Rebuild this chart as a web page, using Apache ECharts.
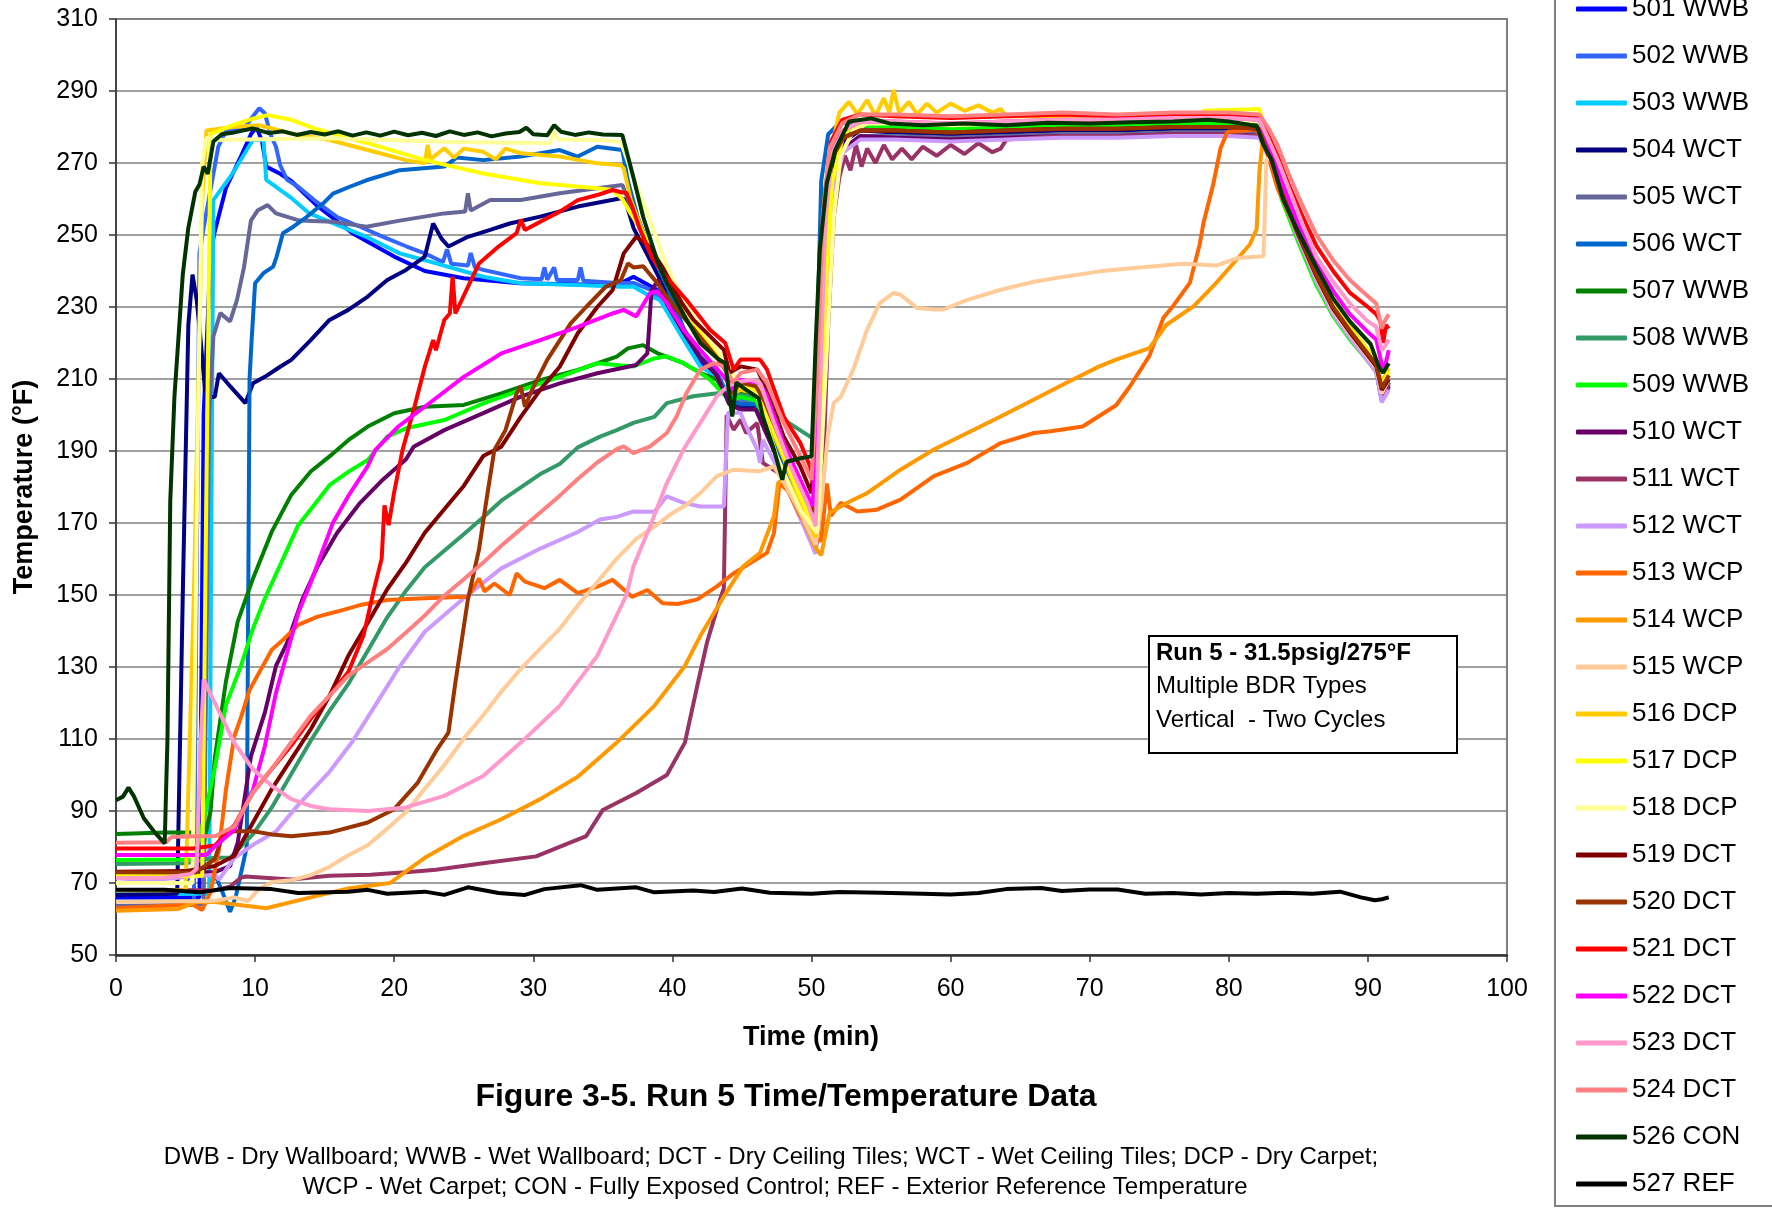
<!DOCTYPE html>
<html><head><meta charset="utf-8">
<script src="https://cdn.jsdelivr.net/npm/echarts@6/dist/echarts.min.js"></script>
<style>html,body{margin:0;padding:0;background:#fff}#c{width:1772px;height:1209px}</style>
</head><body><div id="c"></div>
<script>
const seriesNames = ['501 WWB','502 WWB','503 WWB','504 WCT','505 WCT','506 WCT','507 WWB','508 WWB','509 WWB','510 WCT','511 WCT','512 WCT','513 WCP','514 WCP','515 WCP','516 DCP','517 DCP','518 DCP','519 DCT','520 DCT','521 DCT','522 DCT','523 DCT','524 DCT','526 CON','527 REF'];
const seriesColors = ['#0000FF','#3366FF','#00CCFF','#000080','#666699','#0066CC','#008000','#339966','#00FF00','#660066','#993366','#CC99FF','#FF6600','#FF9900','#FFCC99','#FFCC00','#FFFF00','#FFFF99','#800000','#993300','#FF0000','#FF00FF','#FF99CC','#FF8080','#003300','#000000'];
const xTickLabels = [0,10,20,30,40,50,60,70,80,90,100];
const yTickLabels = [50,70,90,110,130,150,170,190,210,230,250,270,290,310];

const s501 = [[0,66],[6.0,66],[6.3,200],[6.8,245],[7.1,251],[7.9,263],[9,272],[9.7,278],[10.1,280],[10.5,276],[10.8,269],[11.8,267],[12.6,265],[14.5,258],[17,250.5],[20,244],[22.2,240],[25,238],[29,236.6],[33,236.3],[36,236],[37.2,238.4],[38.9,234.8],[40.8,222],[42,214.4],[43.2,210],[44.1,205],[44.9,203],[46,203],[46.5,199],[48,186],[49,176],[50.3,162],[50.6,200],[51,250],[51.5,270],[52.3,278],[53.5,280],[56,279.5],[60,279],[64,279.5],[68,280],[72,280],[76,280.5],[80,280.5],[82.2,280],[82.8,274],[83.8,262],[85,249.5],[86.3,237.5],[87.5,228.5],[88.7,222],[90,215.5],[90.6,212.5],[91,204],[91.5,208]];
const s502 = [[0,65],[5.6,65],[5.9,200],[6.0,245],[6.3,252],[7.35,274.5],[7.9,279],[9.3,280],[9.85,283],[10.3,285.2],[10.7,283.8],[11.1,278],[11.5,274.5],[11.8,269.4],[12.3,265.3],[13.1,263.4],[14.25,259.7],[15.9,255],[17.55,252.3],[19.2,249.5],[20.9,246.8],[22.2,244.9],[23.5,242.5],[23.8,246],[24.1,242],[25.3,241.5],[25.5,245],[25.8,241],[26.4,240.3],[29.1,238],[30.6,237.7],[30.8,241],[31,237.6],[31.5,241],[31.7,237.5],[33.2,237.5],[33.4,241],[33.6,237.3],[36,236.7],[37.2,236.7],[38.4,234.8],[39.6,230],[40.8,223.7],[42,216.3],[43.2,211.7],[44.1,205],[44.9,204],[46,203.5],[46.5,199],[48,185],[49,175.5],[50.3,163],[50.6,205],[51,255],[51.5,272],[52.3,279],[53.5,281],[56,280.5],[60,280],[64,280.5],[68,281],[72,281],[76,281.5],[80,281.5],[82.2,281],[82.8,275],[83.8,262.5],[85,250],[86.3,238],[87.5,229],[88.7,222.5],[90,216],[90.6,213],[91,205],[91.5,209]];
const s503 = [[0,67],[6.7,67],[6.9,200],[7.0,259.7],[8.4,267.2],[9.4,273.6],[9.85,276.4],[10.6,276.4],[10.8,265.3],[11.5,263.4],[12.5,260.6],[13.9,256],[15.6,253.3],[18,249.5],[20.4,244.9],[22.2,243],[26.4,238.4],[29.1,236.6],[33.2,236.1],[36.3,235.6],[37.2,235.7],[38.4,233],[39.1,232],[40.8,221],[42,213.5],[43.2,210.7],[44.1,205],[44.9,203.5],[46,203],[46.5,198],[48,184],[49,174],[50.3,161.5],[50.6,200],[51,252],[51.5,271],[52.3,278],[53.5,280],[56,279.5],[60,279],[64,279.5],[68,280],[72,280],[76,280.5],[80,280.5],[82.2,280],[82.8,273.5],[83.8,261.5],[85,249],[86.3,237],[87.5,228],[88.7,221.5],[90,215],[90.6,212],[91,204],[91.5,207.5]];
const s504 = [[0,66.7],[4.4,67],[4.8,150],[5.2,225],[5.5,239],[5.8,232],[6.04,222.7],[6.4,207],[6.7,205],[7.1,205],[7.4,211.6],[8.2,208],[9.3,203.3],[9.85,208.8],[10.7,210.6],[11.8,213.4],[12.6,215.3],[14,220.8],[15.35,226.4],[16.7,229.2],[18.1,232.9],[19.5,237.5],[20.85,240.3],[22.2,244],[22.8,253.2],[23.4,249],[23.9,246.8],[25.3,249.5],[26.9,251.4],[28.3,253.2],[30.5,255.1],[33.2,257.9],[36.3,260.2],[36.6,259.8],[37.2,252],[38,246],[39,238.5],[40.8,224],[42,216],[43.2,211],[44.1,203],[44.9,202],[46,202],[46.5,198],[48,185],[49,175],[50.3,162],[50.6,195],[51,245],[51.5,268],[52.3,276],[53.5,279],[56,278.5],[60,278],[64,278.5],[68,279],[72,279],[76,279.5],[80,279.5],[82.2,279],[82.8,273],[83.8,261.5],[85,249.5],[86.3,237.5],[87.5,228.5],[88.7,222],[90,215.5],[90.6,212.5],[91,205],[91.5,208.5]];
const s505 = [[0,63.6],[6.3,64],[6.7,200],[7.0,221.8],[7.5,228.3],[8.2,226],[8.7,232],[9.2,241],[9.7,254],[10.2,256.9],[10.9,258.3],[11.5,256],[13.2,254],[15.6,253.7],[18,252.3],[20.4,254],[23.6,256],[25.1,256.5],[25.3,261.6],[25.5,256.8],[26.9,259.7],[29.1,259.7],[31.9,261.6],[34.6,263],[36.4,263.9],[36.8,260],[37.5,253],[38.5,245],[39.6,236],[40.8,224],[42,216],[43.2,211],[44.1,204],[44.9,203.5],[46,203],[46.5,199],[48,185],[49,175.5],[50.3,163],[50.6,195],[51,240],[51.5,265],[52.3,274],[53.5,277.5],[56,277.5],[60,277],[64,277.5],[68,278],[72,278],[76,278.5],[80,278.5],[82.2,278],[82.8,273],[83.8,262],[85,250],[86.3,238],[87.5,229],[88.7,222.5],[90,216],[90.6,213],[91,206],[91.5,209.5]];
const s506 = [[0,70],[5,70],[5.3,72],[7.1,72.5],[7.6,68],[8.2,62],[8.6,66],[9.4,80],[9.6,210],[9.75,220.8],[10,236.6],[10.6,239.4],[11.3,241.2],[11.55,244],[12,250.5],[12.75,252.3],[13.7,255],[14.9,258.8],[15.6,261.5],[16.8,263.4],[18,265.2],[20.4,268],[23.6,269],[24.5,271.5],[26.4,270.8],[29.1,271.8],[31.9,273.6],[33.2,271.8],[34.6,274.5],[36.4,273.6],[36.8,265],[37.5,255],[38.5,245],[39.6,236],[40.8,224],[42,216],[43.2,211],[44.1,204],[44.9,203],[46,203],[46.5,199],[48,186],[49,176],[50.2,164],[50.4,220],[50.7,265],[51.2,278],[52,281],[53.5,281.5],[56,281],[60,280.5],[64,281],[68,281.5],[72,281.5],[76,282],[80,282],[82.2,281],[82.8,275],[83.8,263],[85,250.5],[86.3,238.5],[87.5,229.5],[88.7,223],[90,216.5],[90.6,213.5],[91,206],[91.5,210]];
const s507 = [[0,83.6],[3.6,84],[5.5,84],[6.3,81],[6.8,90],[7.1,104.6],[7.9,125.9],[8.75,142.6],[9.85,154.6],[11.2,167.6],[12.6,177.8],[14,184.3],[15.35,188.5],[16.7,193],[18.1,196.8],[20,200.5],[22.2,202.3],[25,202.8],[27.7,206],[30.5,209.7],[33.2,212.5],[36,216.2],[36.8,218.5],[37.9,219.4],[38.9,217.2],[40.8,214.4],[42,211.7],[43.2,209.8],[44.1,204],[44.9,206],[46,205],[46.5,201],[48,189],[49,180],[50.2,170],[50.5,210],[50.9,260],[51.4,274],[52.3,279],[53.5,281],[56,280.5],[60,280],[64,280.5],[68,281],[72,281],[76,281.5],[80,281.5],[82.2,281],[82.8,274.5],[83.8,262],[85,249.5],[86.3,237.5],[87.5,228.5],[88.7,222],[90,215.5],[90.6,212.5],[91,205.5],[91.5,209]];
const s508 = [[0,75.3],[5,75.5],[7.1,77],[8.2,77],[9.85,83.6],[11.2,91],[12.6,100.3],[14,109.5],[15.35,117.8],[16.7,125.3],[18.1,134.5],[19.5,143.8],[20.85,151.2],[22.2,157.7],[23.6,162.3],[25,166.9],[26.4,171.6],[27.7,176.2],[29.1,179.9],[30.5,183.6],[31.9,186.4],[33.2,191],[34.8,194],[36,195.8],[37.2,197.8],[38.7,199.5],[39.6,203.3],[41.5,205.2],[43.4,206.1],[45.6,205.2],[48,198.7],[49.9,194],[50.3,193],[50.6,230],[51,262],[51.5,273],[52.3,278],[53.5,280],[56,279.5],[60,279],[64,279.5],[68,280],[72,280],[76,280.5],[80,280.5],[82.2,280],[82.8,274],[83.8,262],[85,250],[86.3,238],[87.5,229],[88.7,222.5],[90,216],[90.6,213],[91,205.5],[91.5,209]];
const s509 = [[0,76.4],[5.5,76.5],[6,82.3],[7.1,101.8],[7.9,119.4],[9,130.5],[9.85,140.7],[10.7,149],[11.8,158.3],[13.1,169.4],[14.25,175],[15.35,180.5],[16.7,184.2],[18.1,187.5],[19.5,194],[20.85,196.3],[23.6,198.6],[26.4,203.2],[29.1,206.9],[31.9,210.6],[34.6,214.4],[37.2,213.5],[38.7,215.7],[39.6,216.3],[40.8,214.4],[42,211.7],[42.7,209.8],[44.1,204],[44.9,205],[46,204],[46.5,200],[48,189],[49,180],[50.2,168],[50.5,205],[50.9,258],[51.4,273],[52.3,278.5],[53.5,280.5],[56,280],[60,279.5],[64,280],[68,280.5],[72,280.5],[76,281],[80,281],[82.2,280],[82.8,273],[83.8,260],[85,248],[86.3,236],[87.5,227.5],[88.7,221],[90,215],[90.6,212],[91,205],[91.5,208]];
const s510 = [[0,73],[7.1,73],[8.2,74.7],[8.75,81.2],[9.3,95],[9.7,105.2],[10.7,117.3],[11.5,130.3],[12.3,136.7],[13.4,148.8],[14.5,158],[15.9,167.3],[17.55,175.6],[19.2,182.1],[20.85,187.7],[21.4,191.2],[23.6,195.8],[26.4,200.5],[29.1,205.1],[31.9,208.8],[34.6,211.6],[37.4,213.9],[38.2,217.1],[38.5,234.7],[39,237.5],[39.6,231],[40.8,223],[42,216],[43.2,211],[44.1,203],[44.9,201.5],[46,201.5],[46.5,197],[48,184],[49,174.5],[50.3,162],[50.6,190],[51,240],[51.5,265],[52.3,274],[53.5,277.5],[56,277],[60,276.5],[64,277],[68,277.5],[72,277.5],[76,278],[80,278],[82.2,277.5],[82.8,272.5],[83.8,261.5],[85,249.5],[86.3,237.5],[87.5,228.5],[88.7,222],[90,215.5],[90.6,212.5],[91,204.5],[91.5,208]];
const s511 = [[0,68],[7.1,68],[8.2,69],[9,71.5],[9.3,71.8],[12.6,71],[15.35,72],[18.3,72.3],[20.85,73],[23,73.7],[26.4,75.5],[30.2,77.4],[33.8,83],[35,90.3],[37.4,95],[39.6,100],[40.9,109],[41.8,125],[42.5,137],[43.2,146],[43.7,152],[43.9,200],[44.4,195.9],[44.9,198.7],[45.3,195],[46.1,197.8],[46.5,186.7],[48,183],[49,174],[50.3,162],[50.8,180],[51.2,225],[51.6,255],[52,266],[52.4,272],[52.8,268],[53.2,275],[53.6,269],[54,274],[54.6,270],[55.2,275],[55.8,271],[56.5,274],[57.2,271],[58,274.5],[59,272],[60,275],[61,272.5],[62,275.5],[63,273],[63.6,274],[64,276.5],[68,277.5],[72,277.5],[76,278],[80,278],[82.2,277.5],[82.8,272.5],[83.8,261.5],[85,249.5],[86.3,237.5],[87.5,228.5],[88.7,222],[90,215.5],[90.6,212.5],[91,205],[91.5,208.5]];
const s512 = [[0,70],[7.1,72.3],[7.4,70.9],[8.5,76.9],[9.85,80.6],[11.5,84.3],[13.1,91.7],[15.35,100.9],[17,109.3],[18.65,119.4],[20.3,129.6],[22.2,139.8],[25,149.1],[27.7,157.4],[30.5,162.9],[33.2,167.5],[34.8,171],[36,171.7],[37.2,173.2],[38.7,173.1],[39.6,177.4],[40.8,175.6],[42,174.6],[43.7,174.6],[44,200.6],[44.9,200.6],[45.3,196.9],[46.1,190.4],[46.3,186.7],[46.5,193.1],[48,182],[49,173],[50.3,161.5],[50.6,185],[51,235],[51.5,262],[52.3,273],[53.5,276.5],[56,276.5],[60,276],[64,276.5],[68,277],[72,277],[76,277.5],[80,277.5],[82.2,277],[82.8,272],[83.8,261],[85,249],[86.3,237],[87.5,228],[88.7,221.5],[90,215],[90.6,212],[91,203.5],[91.5,207]];
const s513 = [[0,63],[5.5,64],[6.2,62.5],[6.5,65],[6.8,67.5],[7.4,79.2],[7.9,95.8],[8.5,110.7],[9,116.2],[9.6,123.6],[10.4,129.2],[11.2,134.8],[12,137.5],[13.1,141.7],[14.5,144],[15.9,145.4],[17.55,147.2],[19.5,148.6],[22.2,149.1],[25.3,149.5],[26.1,154.6],[26.5,151],[27.2,153.2],[28.3,150],[28.8,156],[29.4,153.7],[30.8,151.9],[31.9,154.2],[33.2,150.5],[34.6,152.3],[35.7,154.2],[37.1,149.5],[38.2,151.4],[39.3,147.7],[40.4,147.5],[41.8,148.8],[43.2,152.4],[44.4,156],[45.6,158.9],[46.8,161.7],[47.3,167.2],[47.7,181],[48.3,179],[49.2,172],[50.2,166],[50.7,165],[51.1,181],[51.4,172],[52.1,175.6],[53.3,173.2],[54.7,173.7],[56.4,176.5],[58.8,183],[61.2,186.7],[63.6,192.2],[66,195],[67.2,195.5],[69.5,196.8],[71.9,202.7],[72.9,208],[74.3,216.5],[75.3,227],[76,230.3],[77.2,236.7],[77.9,247.3],[78.2,253.7],[78.9,264.4],[79.4,274],[79.9,278.7],[82,279.3],[82.6,275],[83.5,263],[85,250],[86.3,238.5],[87.5,229.5],[88.7,223],[90,217],[90.6,214],[91,207],[91.5,211]];
const s514 = [[0,62.3],[4.5,62.8],[5.7,64.7],[7.1,64.7],[10.8,63],[14,66],[16.7,68.5],[19.7,70],[22.2,77],[25,83.1],[27.7,87.7],[30.5,93.3],[33.2,99.5],[36,109],[38.7,119.2],[40.9,130.3],[42,138.6],[43.7,149.6],[45.1,158],[46.3,161.7],[47.3,171.9],[47.6,181.1],[47.9,182],[48.5,178],[49.5,170],[50.3,163],[50.7,161],[51.3,172.8],[52.5,175.5],[54,178.3],[56.4,184.8],[58.8,190.4],[61.2,195],[63.6,199.6],[66,204.3],[68.3,208.9],[70.7,213.5],[71.9,215.4],[74.3,218.6],[75.5,225],[77.5,230.3],[79.1,236.7],[80.3,242],[81.5,247.3],[82,251.6],[82.2,267.6],[82.5,279],[82.8,274],[83.8,262],[85,250],[86.3,238.5],[87.5,229.5],[88.7,223],[90,217],[90.6,214],[91,208],[91.5,212]];
const s515 = [[0,64.8],[7,65],[8.5,66],[9.5,65],[10.2,68],[11.2,70.3],[12.6,70.8],[14,72.2],[15.35,74.5],[16.7,77.7],[18.1,80.5],[19.5,85.1],[20.85,89.7],[22.2,96.2],[23.6,102.7],[25,110.1],[26.4,116.6],[27.7,123.1],[29.1,129.5],[30.5,135.1],[31.9,140.6],[33.2,147.1],[34.6,153.6],[36,160.1],[37.4,165.6],[38.7,169],[40.1,173],[41,175],[42,178.3],[43.2,183],[44.4,184.8],[46.3,184.4],[47.3,185.7],[48.2,180],[49.2,173],[50.3,164],[50.7,175],[51.2,195],[51.6,203.3],[52.1,205],[53,212.6],[54,223.7],[54.9,231],[55.9,233.9],[56.4,233.4],[57.6,229.7],[58.8,229.3],[59.5,229.3],[61.2,232],[63.6,234.8],[66,237],[68.3,238.5],[70.7,239.9],[72,240.4],[76.7,242],[79.1,241.5],[80.6,243.6],[82.5,244.1],[82.7,270.7],[83,272],[83.8,262],[85,250],[86.3,238],[87.5,229],[88.7,222.5],[90,216],[90.6,213],[91,206],[91.5,210]];
const s516 = [[0,68],[5,68],[5.6,150],[6.2,260],[6.5,279],[8.4,280],[10.3,280.5],[12.6,278.2],[15.35,276.4],[18.1,273.6],[20.85,270.8],[22.2,269.9],[22.4,275],[22.6,271],[23.6,274.1],[24.3,271.5],[25,274],[26.4,273.1],[27.3,271],[28,274],[29.1,272.7],[31.9,271.8],[34.6,269.9],[36.3,269.4],[36.5,268.5],[37,259.8],[37.9,250.6],[39.1,242.2],[40.8,230.2],[42,222.8],[43.2,217.2],[43.9,214.4],[44.3,206],[44.9,207],[46,206],[46.5,202],[48,188],[49,178],[50.3,166],[50.6,200],[51,250],[51.5,275],[52,284],[52.7,287],[53.3,283.5],[54,287.5],[54.6,283],[55.2,288],[55.6,284],[55.9,290.3],[56.3,284],[57,287],[57.6,283.5],[58.3,286.5],[59,284],[60,286.5],[61,284.5],[62,286],[63,284],[63.6,285],[64,283],[68,283],[72,283],[76,283.5],[80,283.5],[82.2,283],[82.8,276],[83.8,264],[85,251.5],[86.3,240],[87.5,231],[88.7,224.5],[90,218],[90.6,215],[91,209],[91.5,213]];
const s517 = [[0,72],[6.2,72],[6.5,180],[6.8,278],[8.4,280.5],[9.85,282.3],[10.9,283.3],[12.6,282],[14.25,279.6],[18.1,275.5],[22.2,270.8],[26.4,267.1],[30.5,264.4],[34.6,263],[35.7,262.5],[36.4,260],[37,256],[38,250],[39,243],[40.8,231],[42,223],[43.2,217.5],[43.9,214],[44.3,207],[44.9,208],[46,207],[46.5,203],[48,189],[49,179],[50.3,168],[50.6,190],[51,235],[51.5,265],[52.3,278],[53.5,281.5],[56,281.5],[60,281],[64,281.5],[68,282],[72,282],[76,282.5],[77.9,283],[78.2,284.5],[82.2,285],[82.6,279],[83.5,268],[85,253],[86.3,239],[87.5,230.5],[88.7,224],[90,218],[90.6,215],[91,208],[91.5,212]];
const s518 = [[0,70],[5.5,70],[5.9,200],[6.2,270],[6.5,277],[7.1,276.4],[15.35,276.9],[23.6,275.9],[31.2,275.5],[31.4,279],[31.8,276.5],[34.6,276.4],[36.3,275.9],[37,268],[37.9,258.9],[38.9,248.7],[39.6,241.3],[41,230.2],[42.5,221.9],[43.4,217.2],[44.9,208],[46.1,205.2],[47.5,188.5],[49.2,173.7],[50.4,167.2],[50.6,181],[51.1,218],[51.6,255],[52.1,272],[53,279],[54,281],[56,281],[60,280.5],[64,281],[68,281.5],[72,281.5],[76,282],[80,282],[82.2,281.5],[82.8,276],[83.8,264],[85,251],[86.3,239.5],[87.5,230],[88.7,223.5],[90,217],[90.6,214],[91,207.5],[91.5,211]];
const s519 = [[0,73.1],[5,73.3],[7.1,74.7],[8.5,77.5],[9.85,86.8],[11.2,96.1],[12.6,104.4],[14,112.7],[15.35,122],[16.7,133.1],[18.1,142.3],[19.5,151.6],[20.85,159],[22.2,167.3],[23.6,173.8],[25,180.3],[26.4,188.6],[27.7,191.2],[29.1,199.5],[30.5,207],[31.9,213.4],[33.2,222.7],[34.6,230],[35.7,234.7],[36.5,244.9],[37.4,249.5],[38.2,247.3],[39.3,241],[40.7,231],[41.5,226.5],[43.7,218.1],[44.1,211.7],[44.9,213.5],[46.1,212.6],[46.8,207],[48,194],[49.2,185.7],[50,178.3],[50.4,200],[50.8,250],[51.3,270],[52.2,277],[53.5,279],[56,279],[60,278.5],[64,279],[68,279.5],[72,279.5],[76,280],[80,280],[82.2,279.5],[82.8,274],[83.8,262],[85,250],[86.3,238.5],[87.5,229.5],[88.7,223],[90,216.5],[90.6,213.5],[91,207],[91.5,210]];
const s520 = [[0,73],[5.7,72.9],[7.1,76.6],[7.65,83],[8.5,84.4],[9.85,84.4],[11.2,83.5],[12.6,83],[15.35,84],[18.1,86.8],[20,90.5],[21.7,97.9],[23.1,107.2],[23.9,111.8],[24.4,125.7],[25.3,148.8],[26.1,162.7],[26.6,175.6],[27.2,190.3],[28,195.8],[28.8,206],[29.1,207.9],[29.4,202.3],[29.9,206.9],[31,215.3],[32.7,225.5],[33.8,230],[35.2,235.6],[36.3,237.5],[36.8,242.1],[37.2,241],[37.9,241.3],[38.9,236.7],[40.1,230.2],[41.5,224],[43.2,216],[43.9,212],[44.3,206],[44.9,209],[46,208],[46.6,204],[48,191],[49,182],[50.1,173],[50.5,210],[50.9,255],[51.4,271],[52.3,277],[53.5,279],[56,279],[60,278.5],[64,279],[68,279.5],[72,279.5],[76,280],[80,280],[82.2,279.5],[82.8,274],[83.8,262.5],[85,250.5],[86.3,239],[87.5,230],[88.7,223.5],[90,217],[90.6,214],[91,207.5],[91.5,211]];
const s521 = [[0,79.6],[5.5,79.6],[7.1,80.4],[8.5,86],[9.85,95.2],[11.2,101.7],[12.6,108.2],[14,115.6],[15.35,122],[16.7,128.6],[17.8,138.8],[18.5,150.8],[19.1,160.1],[19.3,174.9],[19.6,169.4],[20,178.6],[20.6,190.3],[21.4,201.4],[22.2,213.4],[22.8,220.8],[23,218],[23.6,226.4],[24,228.2],[24.2,238.4],[24.4,228.2],[25.3,235.6],[26.1,242.1],[27.5,246.8],[28.8,250.5],[29.1,254.2],[29.4,251.4],[30.5,253.7],[31.9,256.5],[33.2,259.7],[34.6,261.1],[35.7,262.5],[36.4,261.8],[36.7,261.7],[37.1,257.9],[37.6,252.3],[38.5,244],[39.3,239.5],[41,232],[42.7,223.7],[43.8,220],[44.4,212.6],[44.9,215.4],[46.3,215.4],[46.8,212.6],[48,199.6],[49.2,192.2],[49.9,185.7],[50.1,181],[50.5,215],[50.9,258],[51.4,276],[52.2,282],[53.5,283.5],[56,283],[60,282.5],[64,283],[68,283.5],[72,283],[76,283.5],[80,283.5],[82.2,283],[82.8,278],[83.5,272],[84.3,264],[85.2,256],[86.3,247],[87.5,240],[88.7,234],[90,230],[90.6,228],[90.9,226],[91.1,220],[91.3,225],[91.5,224]];
const s522 = [[0,77.8],[6.5,77.8],[7.1,80.1],[8.5,84.8],[9.85,95.9],[10.7,108],[11.5,122.8],[12.3,133.9],[13.1,145],[14,153.4],[14.8,161.8],[15.6,170.1],[16.7,177.5],[18.1,185.8],[18.65,190.3],[20.3,196.8],[22.2,202.3],[25,210.6],[27.7,217.1],[30.5,220.8],[33.2,224.5],[35.7,228.2],[36.5,229.2],[37.4,227.4],[38.4,233.9],[38.9,234.4],[39.6,231.1],[40.8,223.7],[42,218.1],[43.7,210.7],[44.4,207],[44.9,209.8],[46.3,208.9],[46.8,205.2],[48,192.2],[49.2,182],[50.1,174.6],[50.5,205],[50.9,255],[51.4,273],[52.3,279],[53.5,281.5],[56,281.5],[60,281],[64,281.5],[68,282],[72,282],[76,282.5],[80,282.5],[82.2,282],[82.8,276],[83.8,265],[85,253],[86.3,242],[87.5,234.5],[88.7,228],[90,223],[90.6,221],[91,214],[91.2,213],[91.5,218]];
const s523 = [[0,71.3],[3.6,71.5],[5.4,72.5],[5.8,74],[6.1,110],[6.3,126.5],[7.1,120.1],[8.5,109],[9.85,101.6],[11.2,97],[12.6,93.3],[14,91.4],[15.35,90.5],[18.1,90],[20.85,91],[23.6,94.2],[26.4,99.7],[29.1,109],[31.9,119.2],[34.6,133.1],[36.7,150],[37.2,158],[38.4,169.1],[39.6,181.1],[40.8,190.4],[42,197.8],[43.2,205.2],[43.7,207],[44.4,208.9],[45.6,209.8],[46.3,208.9],[47.3,197.8],[48.5,185.7],[49.7,175.6],[50.3,169.1],[50.6,205],[51,255],[51.5,273],[52.3,279],[53.5,281.5],[56,281.5],[60,281],[64,281.5],[68,282],[72,282],[76,282.5],[80,282.5],[82.2,282],[82.8,277],[83.6,270],[84.5,261],[85.3,253],[86.3,244],[87.5,237],[88.7,231],[90,226],[90.6,224.5],[91,218],[91.2,219],[91.5,221]];
const s524 = [[0,81.2],[3.6,81.3],[4,82.8],[5.7,83],[7.1,83],[8.5,85.7],[9.85,95.2],[11.2,101.7],[12.6,109.1],[14,116.5],[15.35,122],[16.7,127.6],[18.1,131.3],[19.5,135],[20.85,139.6],[22.2,144.3],[23.6,149.8],[25,154.4],[26.4,159],[27.7,163.7],[29.1,168.3],[30.5,172.9],[31.9,177.6],[33.2,182.2],[34.6,186.8],[36,190.5],[36.5,191.3],[37.2,189.4],[38.4,191.3],[39.6,195],[40.3,199.6],[41,206],[42,212.6],[43,214.4],[43.7,213.5],[44.4,208.9],[44.9,211.7],[46.1,212.6],[46.8,208.9],[48,197.8],[49.2,188.5],[50,182],[50.4,210],[50.8,255],[51.3,274],[52.2,281],[53.5,283.5],[56,283.5],[60,283],[64,283.5],[68,284],[72,283.5],[76,284],[80,284],[82.2,283.5],[82.8,280],[83.5,275],[84.3,267],[85.2,259],[86.3,250],[87.5,243],[88.7,237.5],[90,233],[90.6,231],[91,224],[91.2,226],[91.5,228]];
const s526 = [[0,93],[0.5,94],[0.9,96.5],[1.3,94],[2,88],[2.8,84],[3.5,81],[3.7,110],[3.9,176],[4.2,205],[4.8,239],[5.2,252],[5.7,262],[6.0,264],[6.3,269],[6.6,267],[7.0,276],[7.6,278],[8.5,278.5],[9.8,279.6],[11,278.3],[12,278.8],[13,277.8],[14,278.6],[15,277.9],[16,278.8],[17,277.6],[18,278.5],[19,277.6],[20,278.7],[21,277.7],[22,278.4],[23,277.5],[24,278.8],[25,277.8],[26,278.5],[27,277.4],[28,278.2],[29,278.6],[29.5,279.8],[30,278],[31,277.7],[31.5,280.5],[32,278.7],[33,277.8],[34,278.5],[35,277.9],[36.4,277.8],[37.2,266],[37.9,255],[38.9,243],[39.6,236.7],[40.8,228],[42,220],[43.2,215.8],[43.8,214.4],[44.3,199.6],[44.6,209],[45.3,207],[46.2,204.7],[46.5,199.6],[47.3,190.4],[47.9,182],[48.2,187],[49.2,188],[50,188.5],[50.3,220],[50.6,246],[51.1,264.4],[51.7,273.6],[52.7,281.5],[54.3,282.4],[55.6,281],[58,280.5],[61,281],[64,280.5],[67,281.2],[70,281],[73,281.3],[76,281.5],[78.5,282],[80,281.5],[82,280.3],[82.5,275],[83.1,270.7],[83.9,260],[84.9,251.6],[86.3,241],[87.5,232.4],[88.7,226],[90.2,219.7],[90.8,213.3],[91.1,211.7],[91.5,214.4]];
const s527 = [[0,68.1],[3.5,68.1],[6,67.4],[8.2,68.6],[11.2,68.3],[13.1,67.2],[16.7,67.6],[18.1,68.1],[19.5,67],[22.2,67.6],[23.6,66.7],[25.3,68.8],[27.5,67.2],[29.4,66.7],[30.8,68.3],[33.4,69.4],[34.6,68.1],[37.4,68.8],[38.7,67.4],[41.5,67.9],[43,67.5],[45,68.5],[47,67.3],[50,67],[52,67.5],[55,67.3],[58,67],[60,66.8],[62,67.2],[64,68.3],[66.5,68.6],[68,67.8],[70,68.2],[72,68.2],[74,67],[76,67.2],[78,66.8],[80,67.2],[82,67],[84,67.3],[86,67],[88,67.6],[89.5,66],[90.5,65.2],[91,65.5],[91.5,66]];

const allData = [s501,s502,s503,s504,s505,s506,s507,s508,s509,s510,s511,s512,s513,s514,s515,s516,s517,s518,s519,s520,s521,s522,s523,s524,s526,s527];

const FONT = '"Liberation Sans", Arial, sans-serif';
const chart = echarts.init(document.getElementById('c'), null, {renderer: 'canvas'});
const series = allData.map((d, i) => ({
  name: seriesNames[i], type: 'line', data: d, showSymbol: false, symbol: 'none',
  lineStyle: {width: 4, color: seriesColors[i]}, itemStyle: {color: seriesColors[i]},
  animation: false, z: 2
}));

chart.setOption({
  backgroundColor: '#ffffff',
  animation: false,
  grid: {left: 116, right: 265, top: 19, bottom: 254, show: true, borderColor: '#808080', borderWidth: 2, containLabel: false},
  xAxis: {
    type: 'value', min: xTickLabels[0], max: xTickLabels[xTickLabels.length-1], interval: 10,
    axisLine: {show: true, onZero: false, lineStyle: {color: '#333333', width: 2.5}},
    axisTick: {show: true, inside: false, length: 7, lineStyle: {color: '#333333', width: 1.5}},
    axisLabel: {fontFamily: FONT, fontSize: 25, color: '#000', margin: 22},
    splitLine: {show: false}
  },
  yAxis: {
    type: 'value', min: yTickLabels[0], max: yTickLabels[yTickLabels.length-1], interval: 20,
    axisLine: {show: true, onZero: false, lineStyle: {color: '#333333', width: 1.5}},
    axisTick: {show: true, inside: false, length: 7, lineStyle: {color: '#333333', width: 1.5}},
    axisLabel: {fontFamily: FONT, fontSize: 25, color: '#000', margin: 18},
    splitLine: {show: true, lineStyle: {color: '#808080', width: 1.5}}
  },
  legend: {
    orient: 'vertical', left: 1576, top: -5, padding: 0, itemGap: 19,
    itemWidth: 51, itemHeight: 5, icon: 'roundRect',
    textStyle: {fontFamily: FONT, fontSize: 26, color: '#000', lineHeight: 28},
    data: seriesNames
  },
  graphic: [
    {type: 'rect', shape: {x: 1555, y: -5, width: 240, height: 1211}, style: {fill: 'none', stroke: '#808080', lineWidth: 2}, z: 0, silent: true},
    {type: 'rect', shape: {x: 1149, y: 636, width: 308, height: 117}, style: {fill: '#ffffff', stroke: '#000000', lineWidth: 2}, z: 50, silent: true},
    {type: 'text', x: 1156, y: 653, style: {text: 'Run 5 - 31.5psig/275°F', font: 'bold 24px ' + FONT, fill: '#000', textVerticalAlign: 'middle'}, z: 51},
    {type: 'text', x: 1156, y: 686, style: {text: 'Multiple BDR Types', font: '24px ' + FONT, fill: '#000', textVerticalAlign: 'middle'}, z: 51},
    {type: 'text', x: 1156, y: 720, style: {text: 'Vertical  - Two Cycles', font: '24px ' + FONT, fill: '#000', textVerticalAlign: 'middle'}, z: 51},
    {type: 'text', x: 811, y: 1038, style: {text: 'Time (min)', font: 'bold 27px ' + FONT, fill: '#000', textAlign: 'center', textVerticalAlign: 'middle'}},
    {type: 'text', x: 25, y: 487, rotation: Math.PI/2, style: {text: 'Temperature (°F)', font: 'bold 27px ' + FONT, fill: '#000', textAlign: 'center', textVerticalAlign: 'middle'}},
    {type: 'text', x: 786, y: 1097, style: {text: 'Figure 3-5. Run 5 Time/Temperature Data', font: 'bold 32px ' + FONT, fill: '#000', textAlign: 'center', textVerticalAlign: 'middle'}},
    {type: 'text', x: 771, y: 1157, style: {text: 'DWB - Dry Wallboard; WWB - Wet Wallboard; DCT - Dry Ceiling Tiles; WCT - Wet Ceiling Tiles; DCP - Dry Carpet;', font: '24px ' + FONT, fill: '#000', textAlign: 'center', textVerticalAlign: 'middle'}},
    {type: 'text', x: 775, y: 1187, style: {text: 'WCP - Wet Carpet; CON - Fully Exposed Control; REF - Exterior Reference Temperature', font: '24px ' + FONT, fill: '#000', textAlign: 'center', textVerticalAlign: 'middle'}}
  ],
  series: series
});
</script></body></html>
